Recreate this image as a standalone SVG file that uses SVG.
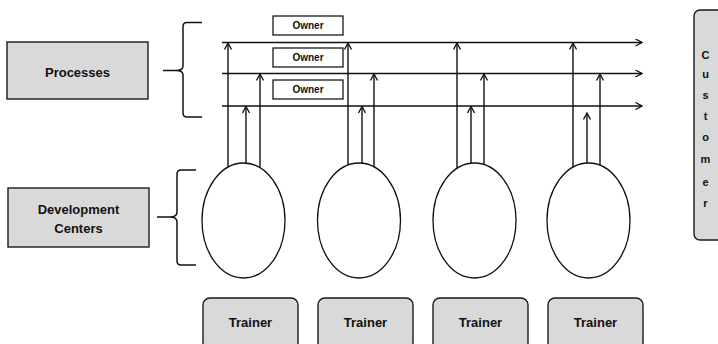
<svg xmlns="http://www.w3.org/2000/svg" width="718" height="344" viewBox="0 0 718 344">
  <style>
    .box { fill: #d9d9d9; stroke: #1a1a1a; stroke-width: 1.4; }
    .owner { fill: #ffffff; stroke: #1a1a1a; stroke-width: 1.3; }
    .center { fill: #ffffff; stroke: #111; stroke-width: 1.3; }
    .lbl { font-family: "Liberation Sans", Arial, sans-serif; font-weight: bold; fill: #111; text-anchor: middle; }
    .line { fill: none; stroke: #111; stroke-width: 1.4; }
    .brace { fill: none; stroke: #111; stroke-width: 1.5; }
  </style>
  <defs>
    <marker id="arrow" viewBox="0 0 8 8" refX="7" refY="4" markerWidth="8" markerHeight="8" markerUnits="userSpaceOnUse" orient="auto">
      <path d="M0.5,0.5 L7,4 L0.5,7.5" fill="none" stroke="#111" stroke-width="1.3"/>
    </marker>
  </defs>

  <rect width="718" height="344" fill="#ffffff"/>

  <!-- connectors: process lines and the links from each center up to them -->
  <g id="connectors">
    <line class="line" x1="222" y1="42.5" x2="642" y2="42.5" marker-end="url(#arrow)"/>
    <line class="line" x1="222" y1="73.5" x2="642" y2="73.5" marker-end="url(#arrow)"/>
    <line class="line" x1="222" y1="106" x2="642" y2="106" marker-end="url(#arrow)"/>

    <line class="line" x1="228" y1="220" x2="228" y2="43" marker-end="url(#arrow)"/>
    <line class="line" x1="246" y1="220" x2="246" y2="106.5" marker-end="url(#arrow)"/>
    <line class="line" x1="260" y1="220" x2="260" y2="74" marker-end="url(#arrow)"/>

    <line class="line" x1="348" y1="220" x2="348" y2="43" marker-end="url(#arrow)"/>
    <line class="line" x1="362" y1="220" x2="362" y2="106.5" marker-end="url(#arrow)"/>
    <line class="line" x1="374" y1="220" x2="374" y2="74" marker-end="url(#arrow)"/>

    <line class="line" x1="457" y1="220" x2="457" y2="43" marker-end="url(#arrow)"/>
    <line class="line" x1="471" y1="220" x2="471" y2="106.5" marker-end="url(#arrow)"/>
    <line class="line" x1="484" y1="220" x2="484" y2="74" marker-end="url(#arrow)"/>

    <line class="line" x1="573" y1="220" x2="573" y2="43" marker-end="url(#arrow)"/>
    <line class="line" x1="587" y1="220" x2="587" y2="113" marker-end="url(#arrow)"/>
    <line class="line" x1="600" y1="220" x2="600" y2="74" marker-end="url(#arrow)"/>
  </g>

  <!-- braces -->
  <path class="brace" d="M202,22.5 L187,22.5 Q183,22.5 183,26.5 L183,66 Q183,70.5 176,70.5 L163,70.5 L176,70.5 Q183,70.5 183,75 L183,113 Q183,117 187,117 L202,117"/>
  <path class="brace" d="M196,170 L181,170 Q177,170 177,174 L177,212 Q177,217 170,217 L157,217 L170,217 Q177,217 177,222 L177,261 Q177,265 181,265 L196,265"/>

  <g id="processes">
    <rect class="box" x="7" y="42" width="141" height="57"/>
    <text class="lbl" x="77.5" y="77" font-size="13">Processes</text>
  </g>

  <g id="development-centers">
    <rect class="box" x="8" y="188" width="141" height="59"/>
    <text class="lbl" x="78.5" y="213.5" font-size="13">Development</text>
    <text class="lbl" x="78.5" y="232.5" font-size="13">Centers</text>
  </g>

  <g id="owner-1">
    <rect class="owner" x="273" y="16" width="70" height="19"/>
    <text class="lbl" x="308" y="29.2" font-size="10">Owner</text>
  </g>
  <g id="owner-2">
    <rect class="owner" x="273" y="48" width="70" height="19"/>
    <text class="lbl" x="308" y="61.2" font-size="10">Owner</text>
  </g>
  <g id="owner-3">
    <rect class="owner" x="273" y="80" width="70" height="19"/>
    <text class="lbl" x="308" y="93.2" font-size="10">Owner</text>
  </g>

  <g id="center-1"><ellipse class="center" cx="243.5" cy="220.5" rx="41.5" ry="57.5"/></g>
  <g id="center-2"><ellipse class="center" cx="359" cy="220.5" rx="41.5" ry="57.5"/></g>
  <g id="center-3"><ellipse class="center" cx="474.5" cy="220.5" rx="41.5" ry="57.5"/></g>
  <g id="center-4"><ellipse class="center" cx="588.5" cy="220.5" rx="41.5" ry="57.5"/></g>

  <g id="trainer-1">
    <rect class="box" x="203" y="298" width="95" height="52" rx="7"/>
    <text class="lbl" x="250.5" y="326.5" font-size="13">Trainer</text>
  </g>
  <g id="trainer-2">
    <rect class="box" x="318" y="298" width="95" height="52" rx="7"/>
    <text class="lbl" x="365.5" y="326.5" font-size="13">Trainer</text>
  </g>
  <g id="trainer-3">
    <rect class="box" x="433" y="298" width="95" height="52" rx="7"/>
    <text class="lbl" x="480.5" y="326.5" font-size="13">Trainer</text>
  </g>
  <g id="trainer-4">
    <rect class="box" x="548" y="298" width="95" height="52" rx="7"/>
    <text class="lbl" x="595.5" y="326.5" font-size="13">Trainer</text>
  </g>

  <g id="customer">
    <rect class="box" x="694" y="10" width="40" height="230" rx="6"/>
    <g class="lbl" font-size="11">
      <text x="705.5" y="59">C</text>
      <text x="705.5" y="78">u</text>
      <text x="705.5" y="99">s</text>
      <text x="705.5" y="120">t</text>
      <text x="705.5" y="141">o</text>
      <text x="705.5" y="163">m</text>
      <text x="705.5" y="186">e</text>
      <text x="705.5" y="207">r</text>
    </g>
  </g>
</svg>
